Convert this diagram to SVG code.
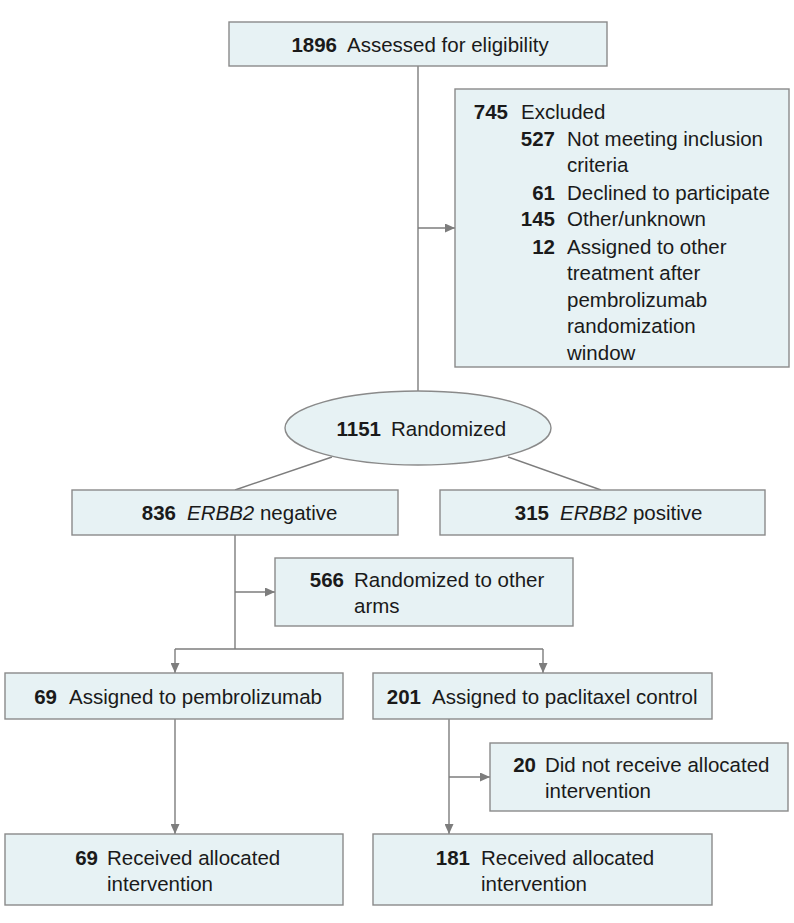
<svg xmlns="http://www.w3.org/2000/svg" width="794" height="923" viewBox="0 0 794 923">
<style>
.box{fill:#e7f2f4;stroke:#8a8a8a;stroke-width:1.4}
.ln{fill:none;stroke:#7d7d7d;stroke-width:1.4}
text{font-family:"Liberation Sans",Arial,sans-serif;font-size:20.5px;fill:#1a1a1a}
.n{font-weight:bold;text-anchor:end}
.i{font-style:italic}
</style>
<defs>
<marker id="ah" markerUnits="userSpaceOnUse" markerWidth="10" markerHeight="9" refX="10" refY="4.5" orient="auto">
<path d="M0,0 L10,4.5 L0,9 z" fill="#7d7d7d"/>
</marker>
</defs>
<rect width="794" height="923" fill="#ffffff"/>
<g id="connectors">
<line class="ln" x1="418" y1="66" x2="418" y2="391"/>
<line class="ln" x1="418" y1="228" x2="455" y2="228" marker-end="url(#ah)"/>
<line class="ln" x1="332" y1="457" x2="235" y2="490"/>
<line class="ln" x1="508" y1="457" x2="601" y2="490"/>
<line class="ln" x1="235" y1="535" x2="235" y2="649"/>
<line class="ln" x1="235" y1="592" x2="275" y2="592" marker-end="url(#ah)"/>
<line class="ln" x1="175" y1="649" x2="543" y2="649"/>
<line class="ln" x1="175" y1="649" x2="175" y2="673" marker-end="url(#ah)"/>
<line class="ln" x1="543" y1="649" x2="543" y2="673" marker-end="url(#ah)"/>
<line class="ln" x1="175" y1="719" x2="175" y2="834" marker-end="url(#ah)"/>
<line class="ln" x1="449" y1="719" x2="449" y2="834" marker-end="url(#ah)"/>
<line class="ln" x1="449" y1="777" x2="490" y2="777" marker-end="url(#ah)"/>
</g>
<g id="assessed">
<rect class="box" x="229" y="22" width="378" height="44"/>
<text class="n" x="337" y="52">1896</text>
<text x="347" y="52">Assessed for eligibility</text>
</g>
<g id="excluded">
<rect class="box" x="455" y="89" width="334" height="278"/>
<text class="n" x="508" y="119">745</text>
<text x="521" y="119">Excluded</text>
<text class="n" x="555" y="146">527</text>
<text x="567" y="146">Not meeting inclusion</text>
<text x="567" y="172">criteria</text>
<text class="n" x="555" y="200">61</text>
<text x="567" y="200">Declined to participate</text>
<text class="n" x="555" y="226">145</text>
<text x="567" y="226">Other/unknown</text>
<text class="n" x="555" y="254">12</text>
<text x="567" y="254">Assigned to other</text>
<text x="567" y="280">treatment after</text>
<text x="567" y="307">pembrolizumab</text>
<text x="567" y="333">randomization</text>
<text x="567" y="360">window</text>
</g>
<g id="randomized">
<ellipse class="box" cx="418" cy="428" rx="133" ry="37"/>
<text class="n" x="381" y="436">1151</text>
<text x="391" y="436">Randomized</text>
</g>
<g id="erbb2neg">
<rect class="box" x="72" y="490" width="326" height="45"/>
<text class="n" x="176" y="520">836</text>
<text x="187" y="520"><tspan class="i">ERBB2</tspan> negative</text>
</g>
<g id="erbb2pos">
<rect class="box" x="440" y="490" width="325" height="45"/>
<text class="n" x="549" y="520">315</text>
<text x="560" y="520"><tspan class="i">ERBB2</tspan> positive</text>
</g>
<g id="otherarms">
<rect class="box" x="275" y="558" width="298" height="68"/>
<text class="n" x="344" y="587">566</text>
<text x="354" y="587">Randomized to other</text>
<text x="354" y="613">arms</text>
</g>
<g id="pembro">
<rect class="box" x="5" y="673" width="338" height="46"/>
<text class="n" x="57" y="704">69</text>
<text x="69" y="704">Assigned to pembrolizumab</text>
</g>
<g id="paclitaxel">
<rect class="box" x="373" y="673" width="339" height="46"/>
<text class="n" x="421" y="704">201</text>
<text x="432" y="704">Assigned to paclitaxel control</text>
</g>
<g id="notreceived">
<rect class="box" x="490" y="743" width="298" height="68"/>
<text class="n" x="536" y="772">20</text>
<text x="545" y="772">Did not receive allocated</text>
<text x="545" y="798">intervention</text>
</g>
<g id="received69">
<rect class="box" x="5" y="834" width="338" height="71"/>
<text class="n" x="98" y="865">69</text>
<text x="107" y="865">Received allocated</text>
<text x="107" y="891">intervention</text>
</g>
<g id="received181">
<rect class="box" x="373" y="834" width="339" height="71"/>
<text class="n" x="470" y="865">181</text>
<text x="481" y="865">Received allocated</text>
<text x="481" y="891">intervention</text>
</g>
</svg>
